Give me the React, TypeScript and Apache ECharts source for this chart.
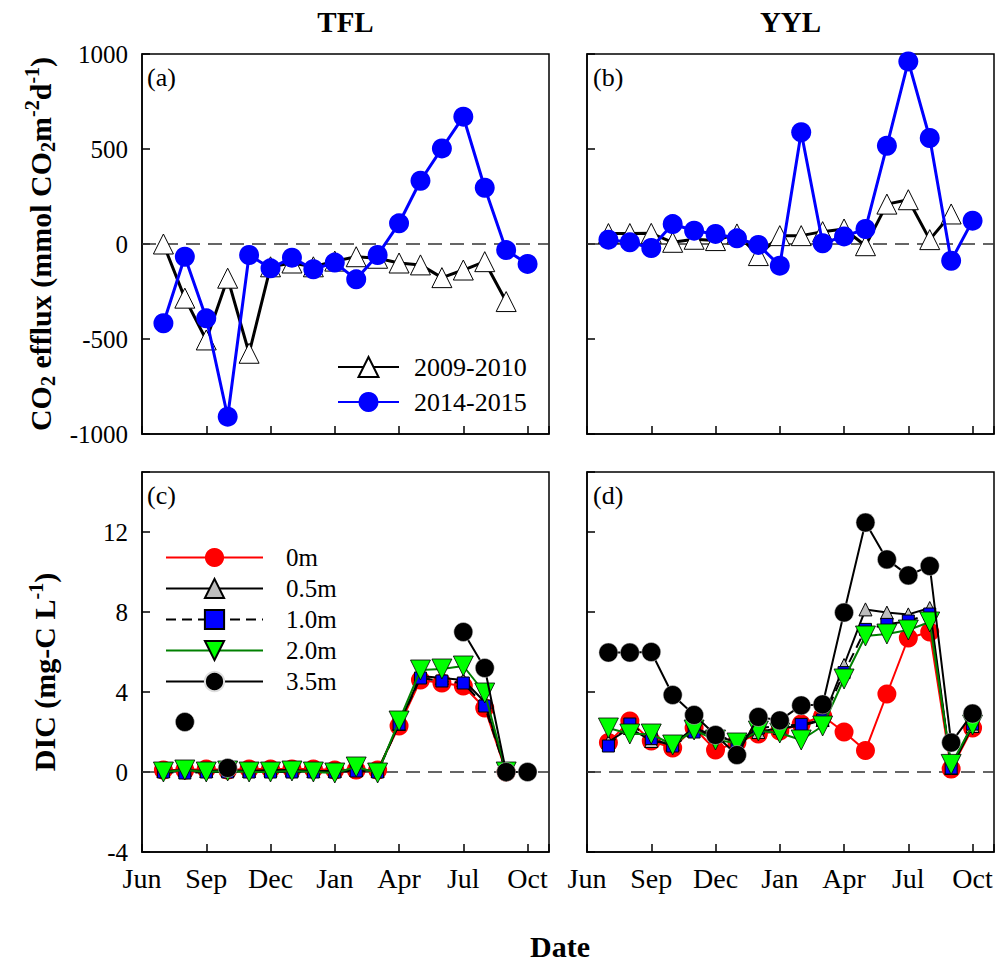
import React, { useEffect, useRef } from 'react';
import * as echarts from 'echarts';

// ---------- data ----------
const MONTH_INDEX = [1, 2, 3, 4, 5, 6, 7, 8, 9, 10, 11, 12, 13, 14, 15, 16, 17, 18];
const TICK_LABELS = ['Jun', 'Sep', 'Dec', 'Jan', 'Apr', 'Jul', 'Oct'];

// CO2 efflux (mmol CO2 m-2 d-1)
const TFL_2009 = [0, -285, -505, -180, -575, -120, -100, -120, -90, -67, -75, -100, -110, -177, -137, -93, -303];
const TFL_2014 = [-417, -67, -391, -909, -58, -128, -72, -133, -98, -186, -58, 109, 333, 503, 670, 296, -32, -105];
const YYL_2009 = [55, 55, 56, 9, 25, 18, 53, -61, 44, 44, 65, 79, -9, 210, 233, 23, 158];
const YYL_2014 = [23, 9, -21, 105, 70, 53, 30, -5, -114, 588, 4, 40, 79, 517, 961, 558, -88, 123];

// DIC (mg-C L-1)
const TFL_0M = [0.1, 0.1, 0.15, 0.1, 0.15, 0.15, 0.15, 0.15, 0.1, 0.1, 0.1, 2.3, 4.6, 4.45, 4.3, 3.2, 0];
const TFL_05M = [0.05, 0.1, 0.05, 0.1, 0.05, 0.1, 0.1, 0.05, 0.05, 0.1, 0.05, 2.4, 4.8, 4.7, 4.6, 3.5, 0];
const TFL_10M = [0, -0.05, 0, 0, 0, 0, 0, 0, 0, 0.05, 0, 2.4, 4.7, 4.55, 4.45, 3.3, 0];
const TFL_20M = [0, 0.1, 0, 0.05, 0, 0, 0.05, 0, -0.05, 0.25, -0.05, 2.55, 5.1, 5.15, 5.3, 3.95, 0];
const TFL_35M = [null, 2.5, null, 0.2, null, null, null, null, null, null, null, null, null, null, 7.0, 5.2, 0, 0];

const YYL_0M = [1.47, 2.55, 1.55, 1.2, 2.2, 1.1, 1.47, 1.9, 2.05, 2.4, 2.8, 2.0, 1.08, 3.9, 6.7, 7.0, 0.15, 2.2];
const YYL_05M = [1.5, 2.2, 1.55, 1.4, 2.2, 1.8, 1.5, 2.0, 2.2, 2.3, 2.6, 5.35, 8.13, 7.97, 7.88, 8.2, 0.2, 2.3];
const YYL_10M = [1.3, 2.4, 1.67, 1.3, 2.0, 1.9, 1.47, 2.2, 2.3, 2.38, 2.6, 4.97, 7.13, 7.38, 7.55, 7.9, 0.2, 2.4];
const YYL_20M = [2.2, 1.9, 1.9, 1.35, 2.1, 1.6, 1.45, 2.05, 1.95, 1.6, 2.3, 4.65, 6.8, 6.9, 7.1, 7.5, 0.38, 2.35];
const YYL_35M = [5.97, 5.97, 6.0, 3.85, 2.85, 1.85, 0.85, 2.75, 2.58, 3.33, 3.38, 7.97, 12.47, 10.63, 9.83, 10.3, 1.47, 2.92];

const FONT = "'Liberation Serif', 'Times New Roman', serif";

function pairs(vals: (number | null)[]) {
  return vals.map((v, i) => [MONTH_INDEX[i], v == null ? '-' : v]);
}

const GRIDS = [
  { left: 142, top: 54, width: 407, height: 380 },
  { left: 587, top: 54, width: 407, height: 380 },
  { left: 142, top: 472, width: 407, height: 380 },
  { left: 587, top: 472, width: 407, height: 380 },
];

function zeroLine() {
  return {
    silent: true,
    z: 1,
    symbol: ['none', 'none'],
    label: { show: false },
    lineStyle: { type: [14, 8], color: '#333', width: 1.5 },
    emphasis: { disabled: true },
    data: [{ yAxis: 0 }],
  };
}

function effluxSeries(idx: number, d09: number[], d14: number[]) {
  return [
    {
      name: '2009-2010',
      type: 'line',
      xAxisIndex: idx,
      yAxisIndex: idx,
      data: pairs(d09),
      symbol: 'triangle',
      symbolSize: 20,
      itemStyle: { color: '#ffffff', borderColor: '#000', borderWidth: 1 },
      lineStyle: { color: '#000', width: 3 },
      markLine: zeroLine(),
      z: 2,
    },
    {
      name: '2014-2015',
      type: 'line',
      xAxisIndex: idx,
      yAxisIndex: idx,
      data: pairs(d14),
      symbol: 'circle',
      symbolSize: 20,
      itemStyle: { color: '#0000ff' },
      lineStyle: { color: '#0000ff', width: 3 },
      z: 3,
    },
  ];
}

function dicSeries(idx: number, d0: any[], d05: any[], d10: any[], d20: any[], d35: any[]) {
  const base = { type: 'line', xAxisIndex: idx, yAxisIndex: idx };
  return [
    {
      ...base, name: '0m', data: pairs(d0), symbol: 'circle', symbolSize: 19,
      itemStyle: { color: '#ff0000' }, lineStyle: { color: '#ff0000', width: 2 },
      markLine: zeroLine(), z: 2,
    },
    {
      ...base, name: '0.5m', data: pairs(d05), symbol: 'triangle', symbolSize: 13,
      itemStyle: { color: '#bdbdbd', borderColor: '#000', borderWidth: 1 },
      lineStyle: { color: '#000', width: 2 }, z: 3,
    },
    {
      ...base, name: '1.0m', data: pairs(d10), symbol: 'rect', symbolSize: 12,
      itemStyle: { color: '#0000ff', borderColor: '#000', borderWidth: 1 },
      lineStyle: { color: '#000', width: 2, type: [10, 6] }, z: 4,
    },
    {
      ...base, name: '2.0m', data: pairs(d20), symbol: 'triangle', symbolRotate: 180, symbolSize: 20,
      itemStyle: { color: '#00ff00', borderColor: '#000', borderWidth: 0.8 },
      lineStyle: { color: '#008000', width: 2 }, z: 5,
    },
    {
      ...base, name: '3.5m', data: pairs(d35), symbol: 'circle', symbolSize: 19,
      itemStyle: { color: '#000', borderColor: '#ddd', borderWidth: 0.5 },
      lineStyle: { color: '#000', width: 2 }, z: 6,
    },
  ];
}

function xAxisCfg(i: number) {
  return {
    type: 'value',
    gridIndex: i,
    min: 0,
    max: 19,
    interval: 3,
    axisLine: { show: true, onZero: false, lineStyle: { color: '#000', width: 1.5 } },
    axisTick: { show: true, inside: true, length: 8, lineStyle: { color: '#000', width: 1.5 } },
    splitLine: { show: false },
    axisLabel: {
      show: i >= 2,
      formatter: (v: number) => (v % 3 === 0 ? TICK_LABELS[v / 3] : ''),
      fontSize: 28,
      fontFamily: FONT,
      color: '#000',
      margin: 12,
      hideOverlap: false,
    },
  };
}

function yAxisCfg(i: number) {
  const top = i < 2;
  return {
    type: 'value',
    gridIndex: i,
    min: top ? -1000 : -4,
    max: top ? 1000 : 15,
    interval: top ? 500 : 4,
    axisLine: { show: true, onZero: false, lineStyle: { color: '#000', width: 1.5 } },
    axisTick: { show: true, inside: true, length: 8, lineStyle: { color: '#000', width: 1.5 } },
    splitLine: { show: false },
    axisLabel: {
      show: i % 2 === 0,
      formatter: (v: number) => (top ? String(v) : v % 4 === 0 ? String(v) : ''),
      fontSize: 25,
      fontFamily: FONT,
      color: '#000',
      margin: 14,
    },
  };
}

const RICH = {
  b: { fontSize: 30, fontWeight: 'bold', fontFamily: FONT, fill: '#000', lineHeight: 36 },
  s: { fontSize: 20, fontWeight: 'bold', fontFamily: FONT, fill: '#000', lineHeight: 12, verticalAlign: 'bottom' },
  p: { fontSize: 20, fontWeight: 'bold', fontFamily: FONT, fill: '#000', lineHeight: 14, verticalAlign: 'top' },
};

export default function App() {
  const ref = useRef<HTMLDivElement>(null);
  useEffect(() => {
    document.body.style.margin = '0';
    const chart = echarts.init(ref.current!, null, { renderer: 'svg' });
    const option: any = {
      animation: false,
      backgroundColor: '#fff',
      grid: GRIDS.map((g) => ({ ...g, show: true, borderColor: '#000', borderWidth: 1.5, backgroundColor: 'transparent' })),
      xAxis: [0, 1, 2, 3].map(xAxisCfg),
      yAxis: [0, 1, 2, 3].map(yAxisCfg),
      legend: [
        {
          data: ['2009-2010', '2014-2015'],
          orient: 'vertical',
          left: 332,
          top: 349,
          itemWidth: 61,
          itemHeight: 25,
          itemGap: 9,
          selectedMode: false,
          textStyle: { fontSize: 26, fontFamily: FONT, color: '#000', padding: [0, 0, 0, 10] },
        },
        {
          data: ['0m', '0.5m', '1.0m', '2.0m', '3.5m'],
          orient: 'vertical',
          left: 160,
          top: 540,
          itemWidth: 97,
          itemHeight: 24,
          itemGap: 6,
          selectedMode: false,
          textStyle: { fontSize: 25, fontFamily: FONT, color: '#000', padding: [0, 0, 0, 18] },
        },
      ],
      series: [
        ...effluxSeries(0, TFL_2009, TFL_2014),
        ...effluxSeries(1, YYL_2009, YYL_2014),
        ...dicSeries(2, TFL_0M, TFL_05M, TFL_10M, TFL_20M, TFL_35M),
        ...dicSeries(3, YYL_0M, YYL_05M, YYL_10M, YYL_20M, YYL_35M),
      ],
      graphic: [
        { type: 'text', x: 345.5, y: 22, style: { text: 'TFL', font: `bold 29px ${FONT}`, fill: '#000', align: 'center', verticalAlign: 'middle' } },
        { type: 'text', x: 790.5, y: 22, style: { text: 'YYL', font: `bold 29px ${FONT}`, fill: '#000', align: 'center', verticalAlign: 'middle' } },
        { type: 'text', x: 147, y: 77, style: { text: '(a)', font: `26px ${FONT}`, fill: '#000', align: 'left', verticalAlign: 'middle' } },
        { type: 'text', x: 593, y: 77, style: { text: '(b)', font: `26px ${FONT}`, fill: '#000', align: 'left', verticalAlign: 'middle' } },
        { type: 'text', x: 147, y: 495, style: { text: '(c)', font: `26px ${FONT}`, fill: '#000', align: 'left', verticalAlign: 'middle' } },
        { type: 'text', x: 593, y: 495, style: { text: '(d)', font: `26px ${FONT}`, fill: '#000', align: 'left', verticalAlign: 'middle' } },
        { type: 'text', x: 560, y: 946, style: { text: 'Date', font: `bold 30px ${FONT}`, fill: '#000', align: 'center', verticalAlign: 'middle' } },
        {
          type: 'text', x: 40, y: 244, rotation: Math.PI / 2,
          style: {
            text: '{b|CO}{s|2}{b| efflux (mmol CO}{s|2}{b|m}{p|-2}{b|d}{p|-1}{b|)}',
            rich: RICH, align: 'center', verticalAlign: 'middle',
          },
        },
        {
          type: 'text', x: 44, y: 672, rotation: Math.PI / 2,
          style: {
            text: '{b|DIC (mg-C L}{p|-1}{b|)}',
            rich: RICH, align: 'center', verticalAlign: 'middle',
          },
        },
      ],
    };
    chart.setOption(option);
    return () => chart.dispose();
  }, []);
  return <div ref={ref} style={{ width: 998, height: 966 }} />;
}
